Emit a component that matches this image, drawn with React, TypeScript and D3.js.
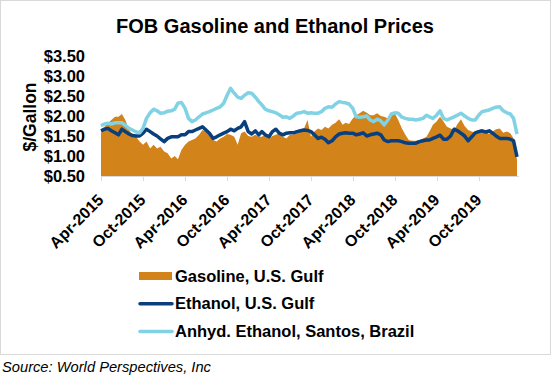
import React from "react";
import * as d3 from "d3";

// Semi-monthly observations starting 1 Apr 2015 (1st and 16th of each month)
const startYear = 2015;
const startMonth = 3; // April (0-based)
const nPoints = 120;

const gasoline = [
  1.57, 1.73, 1.82, 1.9, 1.98, 1.98, 2.05, 1.9, 1.65, 1.53, 1.48, 1.36, 1.28, 1.36, 1.19, 1.28, 1.19, 1.23, 1.11, 1.07, 0.94, 1.0, 0.92, 1.15, 1.28, 1.36, 1.4, 1.44, 1.53, 1.65,
  1.61, 1.53, 1.4, 1.36, 1.44, 1.48, 1.55, 1.53, 1.48, 1.28, 1.57, 1.61, 1.5, 1.48, 1.53, 1.48, 1.48, 1.53, 1.44, 1.5, 1.53, 1.57, 1.48, 1.44, 1.53, 1.53, 1.61, 1.67, 1.69, 1.9,
  1.48, 1.61, 1.69, 1.65, 1.73, 1.69, 1.78, 1.83, 1.92, 1.78, 1.83, 1.8, 1.94, 2.02, 2.07, 2.13, 2.08, 2.02, 2.02, 2.07, 2.0, 1.98, 1.94, 2.02, 2.07, 1.9, 1.69, 1.53, 1.4, 1.38,
  1.38, 1.4, 1.44, 1.48, 1.61, 1.78, 1.86, 1.98, 1.86, 1.73, 1.69, 1.65, 1.8, 1.92, 1.75, 1.65, 1.61, 1.58, 1.65, 1.61, 1.61, 1.55, 1.61, 1.67, 1.69, 1.58, 1.61, 1.57, 1.44, 0.9,
];

const ethanolUS = [
  1.63, 1.67, 1.69, 1.63, 1.58, 1.53, 1.67, 1.61, 1.55, 1.51, 1.5, 1.5, 1.57, 1.67, 1.61, 1.55, 1.5, 1.43, 1.36, 1.44, 1.48, 1.48, 1.48, 1.53, 1.53, 1.61, 1.61, 1.65, 1.69, 1.73,
  1.65, 1.57, 1.44, 1.48, 1.53, 1.57, 1.61, 1.67, 1.63, 1.69, 1.73, 1.86, 1.61, 1.55, 1.63, 1.53, 1.61, 1.53, 1.48, 1.61, 1.67, 1.57, 1.53, 1.57, 1.58, 1.58, 1.61, 1.63, 1.65, 1.64,
  1.61, 1.53, 1.44, 1.47, 1.42, 1.33, 1.38, 1.48, 1.55, 1.57, 1.58, 1.57, 1.57, 1.53, 1.55, 1.58, 1.5, 1.53, 1.55, 1.57, 1.53, 1.4, 1.36, 1.38, 1.38, 1.38, 1.36, 1.33, 1.32, 1.32,
  1.32, 1.36, 1.38, 1.4, 1.4, 1.44, 1.48, 1.52, 1.42, 1.42, 1.5, 1.67, 1.63, 1.57, 1.5, 1.38, 1.48, 1.58, 1.61, 1.63, 1.6, 1.63, 1.57, 1.5, 1.44, 1.44, 1.44, 1.42, 1.38, 0.98,
];

const ethanolBrazil = [
  1.76, 1.8, 1.82, 1.8, 1.83, 1.83, 1.83, 1.77, 1.69, 1.65, 1.6, 1.58, 1.69, 1.94, 2.08, 2.17, 2.13, 2.07, 2.08, 2.12, 2.13, 2.17, 2.32, 2.34, 2.19, 1.94, 1.86, 1.9, 1.98, 2.05,
  2.08, 2.11, 2.15, 2.19, 2.23, 2.32, 2.52, 2.69, 2.57, 2.47, 2.44, 2.52, 2.58, 2.57, 2.47, 2.36, 2.28, 2.17, 2.13, 2.11, 2.08, 2.03, 1.97, 1.98, 1.94, 2.0, 2.07, 2.08, 2.11, 2.07,
  2.08, 2.07, 2.07, 2.11, 2.19, 2.23, 2.22, 2.3, 2.36, 2.34, 2.33, 2.3, 2.19, 1.98, 1.97, 1.98, 2.0, 1.9, 1.86, 1.92, 1.88, 1.78, 1.9, 2.05, 2.08, 2.07, 1.97, 1.94, 1.92, 1.92,
  1.9, 1.92, 1.94, 2.02, 1.98, 1.94, 2.02, 2.13, 1.94, 1.9, 1.94, 1.98, 2.02, 2.07, 2.0, 1.94, 1.9, 1.9, 2.02, 2.11, 2.13, 2.15, 2.19, 2.22, 2.23, 2.13, 2.08, 2.05, 1.94, 1.55,
];

const yTicks = [0.5, 1.0, 1.5, 2.0, 2.5, 3.0, 3.5];
const xTickDates = [
  "2015-04-01", "2015-10-01", "2016-04-01", "2016-10-01", "2017-04-01",
  "2017-10-01", "2018-04-01", "2018-10-01", "2019-04-01", "2019-10-01",
];

const title = "FOB Gasoline and Ethanol Prices";
const yTitle = "$/Gallon";
const source = "Source: World Perspectives, Inc";
const legendItems = [
  { name: "Gasoline, U.S. Gulf", kind: "area", color: "#D2831A" },
  { name: "Ethanol, U.S. Gulf", kind: "line", color: "#0A3F7E" },
  { name: "Anhyd. Ethanol, Santos, Brazil", kind: "line", color: "#80D2E4" },
];

const dates: Date[] = d3.range(nPoints).map(
  (i) => new Date(startYear, startMonth + Math.floor(i / 2), i % 2 === 0 ? 1 : 16)
);

export default function App() {
  const W = 552;
  const H = 380;
  const left = 101;
  const right = 517;
  const top = 56;
  const bottom = 176;
  const font = "Arial, 'Liberation Sans', sans-serif";

  const x = d3
    .scaleTime()
    .domain([new Date(2015, 3, 1), dates[dates.length - 1]])
    .range([left, right]);
  const y = d3.scaleLinear().domain([0.5, 3.5]).range([bottom, top]);

  const area = d3
    .area<number>()
    .x((_, i) => x(dates[i]))
    .y0(y(0.5))
    .y1((d) => y(d));
  const line = d3
    .line<number>()
    .x((_, i) => x(dates[i]))
    .y((d) => y(d));

  const parse = d3.timeParse("%Y-%m-%d");
  const fmt = d3.timeFormat("%b-%Y");

  return (
    <svg
      width={W}
      height={H}
      style={{ position: "absolute", left: 0, top: 0, background: "#fff" }}
      fontFamily={font}
    >
      <rect x={0.5} y={0.5} width={550} height={354} fill="#fff" stroke="#D9D9D9" strokeWidth={1} />
      <text x={275} y={33} textAnchor="middle" fontSize={20} fontWeight="bold" fill="#000">
        {title}
      </text>

      {/* y axis labels */}
      {yTicks.map((t) => (
        <text
          key={t}
          x={85}
          y={y(t)}
          dy="0.36em"
          textAnchor="end"
          fontSize={16.5}
          fontWeight="bold"
          fill="#000"
        >
          {d3.format("$.2f")(t)}
        </text>
      ))}
      <text
        transform={`translate(36, ${(top + bottom) / 2 + 1}) rotate(-90)`}
        textAnchor="middle"
        fontSize={17.5}
        fontWeight="bold"
        fill="#000"
      >
        {yTitle}
      </text>

      {/* series */}
      <path d={area(gasoline) || ""} fill="#D2831A" />
      <path d={line(ethanolUS) || ""} fill="none" stroke="#0A3F7E" strokeWidth={3.5} strokeLinejoin="round" />
      <path d={line(ethanolBrazil) || ""} fill="none" stroke="#80D2E4" strokeWidth={3.5} strokeLinejoin="round" />

      {/* x axis */}
      <line x1={left} x2={right + 2} y1={bottom + 0.5} y2={bottom + 0.5} stroke="#D9D9D9" strokeWidth={1} />
      {xTickDates.map((s) => {
        const d = parse(s) as Date;
        const px = Math.round(x(d)) + 0.5;
        return (
          <g key={s}>
            <line x1={px} x2={px} y1={bottom} y2={bottom + 5} stroke="#D9D9D9" strokeWidth={1} />
            <text
              transform={`translate(${px + 3}, ${bottom + 25}) rotate(-45)`}
              textAnchor="end"
              fontSize={16}
              fontWeight="bold"
              fill="#000"
            >
              {fmt(d)}
            </text>
          </g>
        );
      })}

      {/* legend */}
      {legendItems.map((it, i) => {
        const ly = 276 + i * 27.8;
        return (
          <g key={it.name}>
            {it.kind === "area" ? (
              <rect x={139} y={ly - 4} width={33} height={8} fill={it.color} />
            ) : (
              <line x1={140} x2={172} y1={ly} y2={ly} stroke={it.color} strokeWidth={3.5} strokeLinecap="round" />
            )}
            <text x={175} y={ly + 5.5} fontSize={16.5} fontWeight="bold" fill="#000">
              {it.name}
            </text>
          </g>
        );
      })}

      <text x={2} y={372} fontSize={14.7} fontStyle="italic" fill="#000">
        {source}
      </text>
    </svg>
  );
}
